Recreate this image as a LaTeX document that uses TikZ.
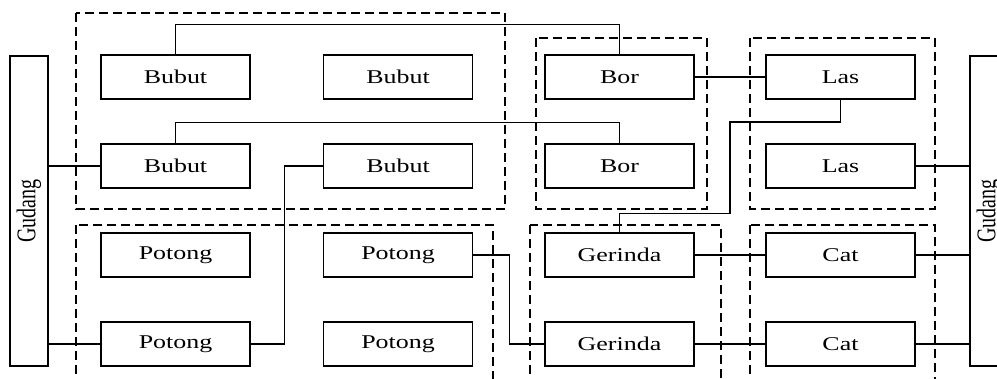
\documentclass[tikz,border=0pt]{standalone}
\usepackage{fontspec}
\setmainfont{Liberation Serif}
\usetikzlibrary{calc}
\newcommand\stretchtext[1]{\scalebox{1.33}[1]{#1}}
\begin{document}
\begin{tikzpicture}[x=1pt,y=-1pt,
  machine/.style={draw, line width=1.4pt, minimum width=149pt, minimum height=44pt,
    inner sep=0pt, font=\fontsize{19.5}{19.5}\selectfont},
  store/.style={draw, line width=1.4pt, minimum width=38pt, minimum height=310pt,
    inner sep=0pt, font=\fontsize{20}{20}\selectfont},
  group/.style={draw, line width=1.2pt, dash pattern=on 9pt off 5pt},
  link/.style={line width=1.2pt}]
\useasboundingbox (0,0) rectangle (997,378);
\clip (0,0) rectangle (997,378);

% work-station groups
\draw[group] (76,13) rectangle (505,209);
\draw[group] (536,38) rectangle (707,209);
\draw[group] (750,38) rectangle (935,209);
\draw[group] (76,225) rectangle (493,395);
\draw[group] (530,225) rectangle (721,395);
\draw[group] (750,225) rectangle (935,395);

% warehouses
\node[store] (storeL) at (29,211) {\rotatebox{90}{\scalebox{1}[1.35]{Gudang}}};
\node[store] (storeR) at (989,211) {\rotatebox{90}{\scalebox{1}[1.35]{Gudang}}};

% machines
\node[machine] (bb1) at (175.5,77) {\stretchtext{Bubut}};
\node[machine] (bb2) at (398,77) {\stretchtext{Bubut}};
\node[machine] (bb3) at (175.5,166) {\stretchtext{Bubut}};
\node[machine] (bb4) at (398,166) {\stretchtext{Bubut}};
\node[machine] (pt1) at (175.5,255) {\stretchtext{Potong}};
\node[machine] (pt2) at (398,255) {\stretchtext{Potong}};
\node[machine] (pt3) at (175.5,344) {\stretchtext{Potong}};
\node[machine] (pt4) at (398,344) {\stretchtext{Potong}};
\node[machine] (bor1) at (619.5,77) {\stretchtext{Bor}};
\node[machine] (bor2) at (619.5,166) {\stretchtext{Bor}};
\node[machine] (gr1) at (619.5,255) {\stretchtext{Gerinda}};
\node[machine] (gr2) at (619.5,344) {\stretchtext{Gerinda}};
\node[machine] (las1) at (840.5,77) {\stretchtext{Las}};
\node[machine] (las2) at (840.5,166) {\stretchtext{Las}};
\node[machine] (cat1) at (840.5,255) {\stretchtext{Cat}};
\node[machine] (cat2) at (840.5,344) {\stretchtext{Cat}};

% material flow
\draw[link] (bb1.north) |- ($(bor1.north)+(0,-30)$) -- (bor1.north);
\draw[link] (bb3.north) |- ($(bor2.north)+(0,-21)$) -- (bor2.north);
\draw[link] (storeL.east |- bb3.west) -- (bb3.west);
\draw[link] (bb4.west) -- ++(-38,0) |- (pt3.east);
\draw[link] (storeL.east |- pt3.west) -- (pt3.west);
\draw[link] (pt2.east) -- ++(36,0) |- (gr2.west);
\draw[link] (bor1.east) -- (las1.west);
\coordinate (j1) at (730,122);
\draw[link] (las1.south) |- (j1) |- ($(gr1.north)+(0,-19)$) -- (gr1.north);
\draw[link] (gr1.east) -- (cat1.west);
\draw[link] (gr2.east) -- (cat2.west);
\draw[link] (las2.east) -- (storeR.west |- las2.east);
\draw[link] (cat1.east) -- (storeR.west |- cat1.east);
\draw[link] (cat2.east) -- (storeR.west |- cat2.east);
\end{tikzpicture}
\end{document}
